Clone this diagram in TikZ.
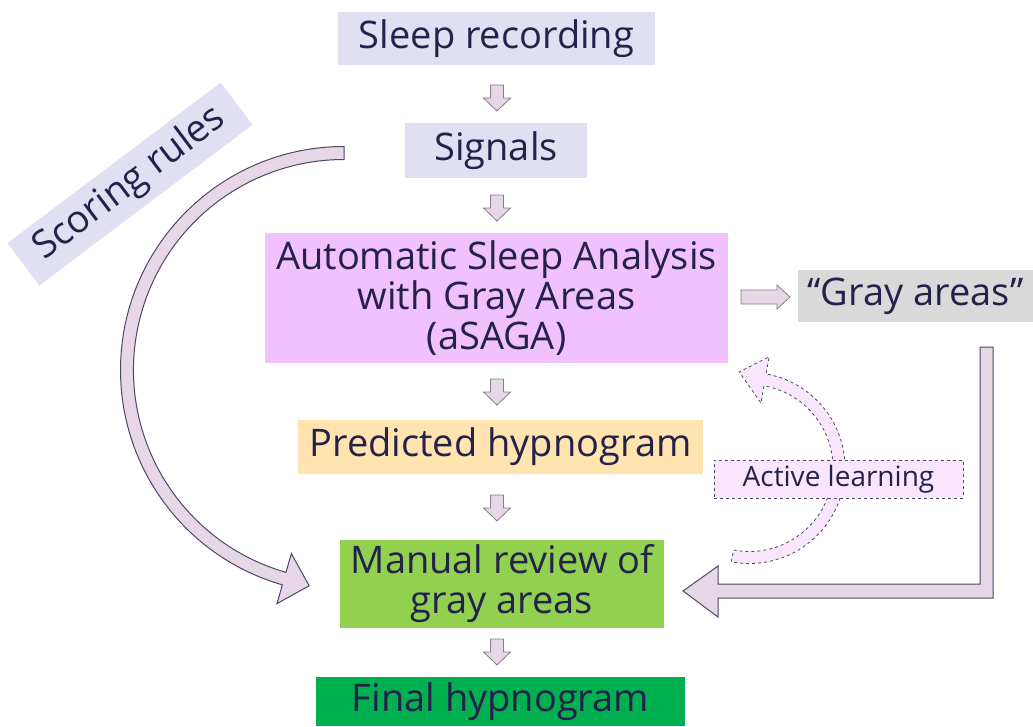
\documentclass[tikz,border=0pt]{standalone}
\usepackage{fontspec}
\setmainfont{Open Sans}
\usetikzlibrary{calc}

\definecolor{ink}{HTML}{24224A}
\definecolor{lav}{HTML}{E1E0F3}
\definecolor{violet}{HTML}{F0C1FD}
\definecolor{grayarea}{HTML}{D9D9D9}
\definecolor{peach}{HTML}{FFE4B0}
\definecolor{lightgreen}{HTML}{92D050}
\definecolor{darkgreen}{HTML}{00B050}
\definecolor{pinkfill}{HTML}{F9E6FD}
\definecolor{arrfill}{HTML}{E6D6E6}
\definecolor{arrline}{HTML}{4A4868}
\definecolor{arrgray}{HTML}{808080}

\begin{document}
\begin{tikzpicture}[x=1pt,y=1pt,
  box/.style={inner sep=0pt,text=ink,font=\fontsize{38}{40}\selectfont,align=center},
  smallarr/.style={draw=arrgray,fill=arrfill,line width=.8pt,line join=miter},
  bigarr/.style={draw=arrline,fill=arrfill,line width=1pt,line join=miter}]
  \useasboundingbox (0,0) rectangle (1033,-726);

  % boxes
  \node[box,fill=lav,minimum width=317pt,minimum height=53pt] (rec) at (496.5,-38.5) {Sleep recording};
  \node[box,fill=lav,minimum width=182pt,minimum height=55pt] (sig) at (496,-150.5) {Signals};
  \node[box,fill=violet,minimum width=463pt,minimum height=130pt] (asaga) at (496.5,-298)
    {Automatic Sleep Analysis\\with Gray Areas\\(aSAGA)};
  \node[box,fill=grayarea,minimum width=235pt,minimum height=52pt] (gray) at (915.5,-296) {“Gray areas”};
  \node[box,fill=peach,minimum width=405pt,minimum height=54pt] (pred) at (500.5,-447) {Predicted hypnogram};
  \node[box,fill=lightgreen,minimum width=324pt,minimum height=88pt] (man) at (502,-584)
    {Manual review of\\gray areas};
  \node[box,fill=darkgreen,minimum width=369pt,minimum height=49pt] (fin) at (500.5,-701.5) {Final hypnogram};
  \node[box,fill=lav,minimum width=267pt,minimum height=53pt,rotate=37] (rules) at (130,-184) {Scoring rules};

  % small arrows
  \foreach \y in {98,208,392,508,652}
    \draw[smallarr] (490.5,-\y+13) -- (503.5,-\y+13) -- (503.5,-\y) -- (510.5,-\y)
      -- (497,-\y-13) -- (483.5,-\y) -- (490.5,-\y) -- cycle;
  \draw[smallarr] (741,-290) -- (777,-290) -- (777,-285) -- (790,-297) -- (777,-309)
    -- (777,-304) -- (741,-304) -- cycle;

  % scoring rules arrow
  \coordinate (rc) at (344,-370);
  \draw[bigarr] ($(rc)+(90:223.5)$) arc[start angle=90,end angle=254,radius=223.5]
    -- ($(rc)+(254:243)$) -- ($(rc)+(254:217)+(344:26)$) -- ($(rc)+(254:191)$)
    -- ($(rc)+(254:210.5)$) arc[start angle=254,end angle=90,radius=210.5] -- cycle;

  % gray areas back to review
  \draw[bigarr] (980,-347) -- (993,-347) -- (993,-598) -- (718,-598) -- (718,-617)
    -- (683,-591) -- (718,-566) -- (718,-584) -- (980,-584) -- cycle;

  % active learning loop
  \coordinate (lc) at (749.5,-468);
  \draw[draw=arrline,fill=pinkfill,line width=.8pt,dashed]
    ($(lc)+(259:83.5)$) arc[start angle=259,end angle=440,radius=83.5]
    -- ($(lc)+(80:66)$) -- ($(lc)+(80:89.5)+(163:27)$) -- ($(lc)+(80:113)$)
    -- ($(lc)+(80:95.5)$) arc[start angle=440,end angle=259,radius=95.5] -- cycle;
  \node[box,fill=pinkfill,draw=arrline,line width=.8pt,dashed,font=\fontsize{28}{30}\selectfont,
    minimum width=249pt,minimum height=38pt] (al) at (838.5,-479) {Active learning};
\end{tikzpicture}
\end{document}
